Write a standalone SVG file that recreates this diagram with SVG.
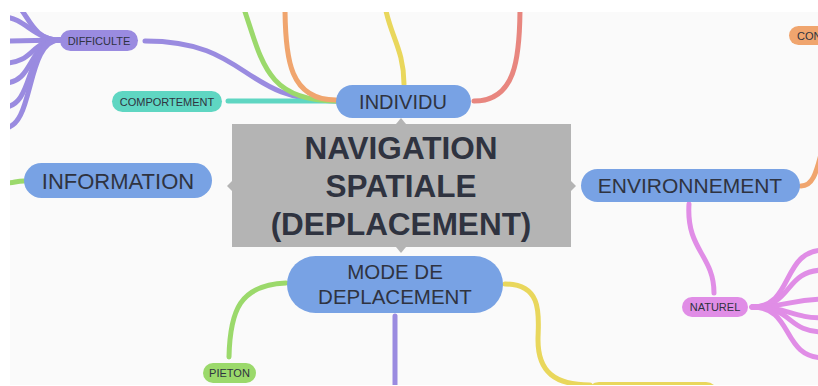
<svg xmlns="http://www.w3.org/2000/svg" width="818" height="386" viewBox="0 0 818 386">
<style>
.t{font-family:"Liberation Sans",Arial,sans-serif;fill:#2f3340;text-anchor:middle}
.c{fill:none;stroke-linecap:round}
.pu{stroke:#9a8be0}.te{stroke:#5fd6c2}.gr{stroke:#9bd96b}.or{stroke:#f0a56e}.ye{stroke:#e9d75c}.re{stroke:#e8867f}.pk{stroke:#e08de6}
</style>
<defs>
  <clipPath id="panel"><rect x="10" y="12" width="808" height="373"/></clipPath>
</defs>
<rect x="0" y="0" width="818" height="386" fill="#ffffff"/>
<rect x="10" y="12" width="808" height="373" fill="#fafafa"/>
<g clip-path="url(#panel)">
<g id="connectors">
  <path class="c pu" stroke-width="5" d="M60,40 C35,40 30,20 20,8"/>
  <path class="c pu" stroke-width="5" d="M60,40 C35,40 25,18 4,17"/>
  <path class="c pu" stroke-width="5" d="M60,40 L4,41"/>
  <path class="c pu" stroke-width="5" d="M60,40 C30,40 35,63 4,63"/>
  <path class="c pu" stroke-width="5" d="M60,40 C28,40 35,83 4,83"/>
  <path class="c pu" stroke-width="5" d="M60,40 C25,40 35,107 4,107"/>
  <path class="c pu" stroke-width="5" d="M60,40 C25,40 35,128 4,128"/>
  <path class="c pu" stroke-width="5" d="M336,101 C240,101 250,41 145,41"/>
  <path class="c te" stroke-width="5" d="M336,101 L228,101"/>
  <path class="c gr" stroke-width="5" d="M336,101 C265,101 262,60 243,6"/>
  <path class="c or" stroke-width="5" d="M336,100 C290,100 285,60 285,6"/>
  <path class="c ye" stroke-width="5" d="M404,84 C404,50 390,35 385,6"/>
  <path class="c re" stroke-width="5" d="M474,101 C515,101 520,60 520,6"/>
  <path class="c gr" stroke-width="5" d="M24,181 C16,181 14,183 6,183"/>
  <path class="c or" stroke-width="5" d="M801,186 C812,186 816,175 822,150"/>
  <path class="c pk" stroke-width="5" d="M689,204 C686,250 714,255 714,293"/>
  <path class="c pk" stroke-width="5" d="M752,307 C795,307 780,250 825,250"/>
  <path class="c pk" stroke-width="5" d="M752,307 C795,307 782,270 825,270"/>
  <path class="c pk" stroke-width="5" d="M752,307 C790,307 790,299 825,299"/>
  <path class="c pk" stroke-width="5" d="M752,307 C790,307 790,318 825,318"/>
  <path class="c pk" stroke-width="5" d="M752,307 C795,307 785,332 825,332"/>
  <path class="c pk" stroke-width="5" d="M752,307 C795,307 780,358 825,358"/>
  <path class="c pu" stroke-width="5" d="M395,316 L395,390"/>
  <path class="c gr" stroke-width="5" d="M286,283 C240,285 230,310 229,357"/>
  <path class="c ye" stroke-width="5" d="M505,284 C545,284 538,320 538,340 C538,372 555,385 590,385"/>
  <path d="M396,124 L401,118 L406,124 Z" fill="#b4b4b4"/>
  <path d="M396,247 L401,253 L406,247 Z" fill="#b4b4b4"/>
  <path d="M232,181 L227,186 L232,191 Z" fill="#b4b4b4"/>
  <path d="M571,181 L576,186 L571,191 Z" fill="#b4b4b4"/>
</g>
<g id="central">
  <rect x="232" y="124" width="339" height="123" fill="#b4b4b4"/>
  <text class="t" x="401" y="159" font-size="31.5" font-weight="bold" fill="#333">NAVIGATION</text>
  <text class="t" x="401" y="197" font-size="31.5" font-weight="bold" fill="#333">SPATIALE</text>
  <text class="t" x="401" y="235" font-size="31.5" font-weight="bold" fill="#333">(DEPLACEMENT)</text>
</g>
<g id="individu">
  <rect x="336" y="85" width="135" height="33" rx="16.5" fill="#78a2e4"/>
  <text class="t" x="403" y="109" font-size="20">INDIVIDU</text>
</g>
<g id="information">
  <rect x="24" y="163" width="188" height="35" rx="17.5" fill="#78a2e4"/>
  <text class="t" x="118" y="189" font-size="22">INFORMATION</text>
</g>
<g id="environnement">
  <rect x="581" y="169" width="219" height="33" rx="16.5" fill="#78a2e4"/>
  <text class="t" x="690" y="193" font-size="21">ENVIRONNEMENT</text>
</g>
<g id="mode">
  <rect x="287" y="256" width="216" height="57" rx="28.5" fill="#78a2e4"/>
  <text class="t" x="395" y="279" font-size="20.5">MODE DE</text>
  <text class="t" x="395" y="304" font-size="20.5">DEPLACEMENT</text>
</g>
<g id="difficulte">
  <rect x="60" y="30" width="78" height="21" rx="10.5" fill="#9a8be0"/>
  <text class="t" x="99" y="44.5" font-size="11">DIFFICULTE</text>
</g>
<g id="comportement">
  <rect x="112" y="91" width="110" height="21" rx="10.5" fill="#5fd6c2"/>
  <text class="t" x="167" y="105.5" font-size="11">COMPORTEMENT</text>
</g>
<g id="con">
  <rect x="789" y="26" width="60" height="19" rx="9.5" fill="#f0a56e"/>
  <text x="797" y="39.5" font-size="11" font-family="Liberation Sans, Arial, sans-serif" fill="#2f3340">CON</text>
</g>
<g id="naturel">
  <rect x="682" y="297" width="66" height="20" rx="10" fill="#e08de6"/>
  <text class="t" x="715" y="311" font-size="11">NATUREL</text>
</g>
<g id="pieton">
  <rect x="203" y="363" width="53" height="20" rx="10" fill="#9bd96b"/>
  <text class="t" x="229.5" y="377" font-size="11">PIETON</text>
</g>
<g id="yellow-node">
  <rect x="587" y="382" width="131" height="30" rx="12" fill="#e9d75c"/>
</g>
</g>
</svg>
